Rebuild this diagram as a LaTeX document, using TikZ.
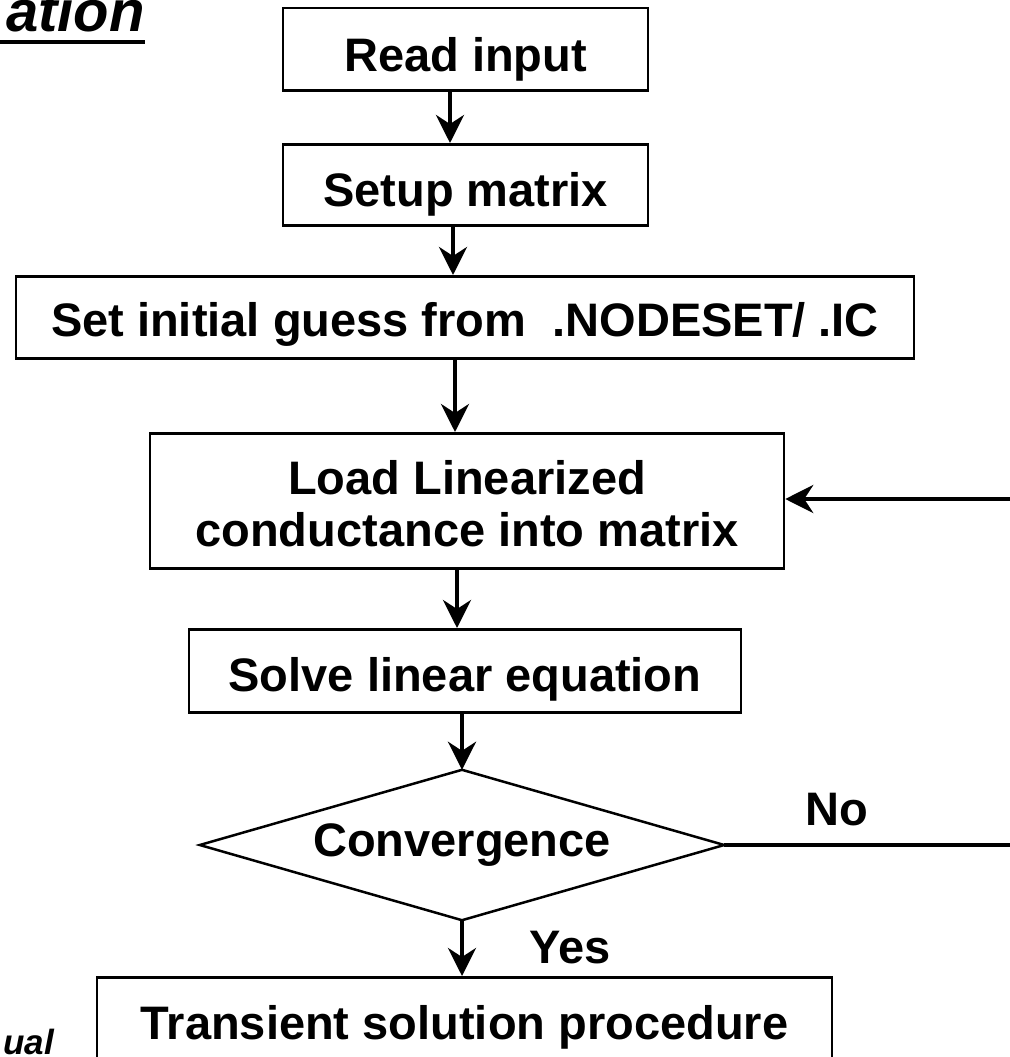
\documentclass[tikz,border=0pt]{standalone}
\usepackage{fontspec}
\setmainfont{Liberation Sans}
\usetikzlibrary{arrows.meta}

\newcommand{\boxfont}{\fontsize{47}{52}\selectfont\bfseries}

\tikzset{
  stepbox/.style={draw, line width=2.5pt, inner sep=0pt, anchor=north, font=\boxfont, align=center},
  decision/.style={inner sep=0pt, font=\boxfont},
  outline/.style={line width=2.5pt, line join=miter},
  flow/.style={line width=4pt, -{Stealth[length=28pt, width=28pt, inset=9pt]}},
  plain/.style={line width=4pt},
  tag/.style={font=\boxfont, inner sep=0pt, anchor=base},
}

\begin{document}
\begin{tikzpicture}[x=1pt, y=-1pt]
  \useasboundingbox (0,0) rectangle (1009,1057);

  % heading fragment and footnote fragment at the page edges
  \node[inner sep=0pt, anchor=base east, font=\fontsize{58}{60}\selectfont\bfseries\itshape] (title) at (145,32) {ation};
  \draw[line width=3.5pt] (0,42) -- (145,42);
  \node[inner sep=0pt, anchor=base east, font=\fontsize{35}{37}\selectfont\bfseries\itshape] (note) at (54,1054) {ual};

  % process steps
  \node[stepbox, minimum width=365pt, text height=63pt, text depth=19pt] (read) at (465.5,7) {Read input};
  \node[stepbox, minimum width=365pt, text height=62pt, text depth=19pt] (setup) at (465.5,143) {Setup matrix};
  \node[stepbox, minimum width=898pt, text height=60pt, text depth=22pt] (guess) at (465,275) {Set initial guess from \ .NODESET/ .IC};
  \node[stepbox, minimum width=634pt, minimum height=135pt] (load) at (467,432) {\rule{0pt}{40pt}Load Linearized\\conductance into matrix};
  \node[stepbox, minimum width=552pt, text height=62pt, text depth=21pt] (solve) at (465,628) {Solve linear equation};

  % decision: a 524 x 150 diamond drawn on the corners of its node
  \node[decision, minimum width=524pt, minimum height=150pt] (conv) at (462,845) {\raisebox{-2pt}{Convergence}};
  \draw[outline] (conv.north) -- (conv.east) -- (conv.south) -- (conv.west) -- cycle;

  \node[stepbox, minimum width=735pt, text height=62pt, text depth=68pt] (trans) at (464.5,976) {Transient solution procedure};

  % loop ends leaving the page on the right
  \coordinate (back) at (1015,499);
  \coordinate (noend) at (1015,845);

  % connectors
  \draw[flow] ([xshift=-15.5pt]read.south) -- ([xshift=-15.5pt]setup.north);
  \draw[flow] ([xshift=-12.5pt]setup.south) -- ([xshift=-12pt]guess.north);
  \draw[flow] ([xshift=-10pt]guess.south) -- ([xshift=-12pt]load.north);
  \draw[flow] ([xshift=-10pt]load.south) -- ([xshift=-8pt]solve.north);
  \draw[flow] ([xshift=-3pt]solve.south) -- (conv.north);
  \draw[flow] (conv.south) -- ([xshift=-2.5pt]trans.north);
  \draw[plain] (conv.east) -- (noend);
  \draw[flow] (back) -- (back -| load.east);

  % branch labels
  \node[tag] (no) at (837,825) {No};
  \node[tag] (yes) at (570,963) {Yes};
\end{tikzpicture}
\end{document}
